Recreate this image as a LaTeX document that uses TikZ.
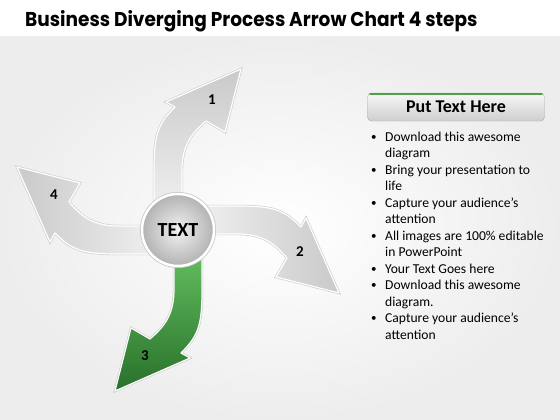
\documentclass[tikz,border=0pt]{standalone}
\usepackage{fontspec}
\setmainfont{Carlito}
\newfontfamily\headfont{Poppins}
\usetikzlibrary{positioning,calc}
\definecolor{leafdark}{RGB}{40,112,42}
\definecolor{leaflight}{RGB}{104,196,100}
\definecolor{barline}{RGB}{80,160,70}
\tikzset{%
  every petal/.style={
    preaction={draw=gray!40, line width=2.4pt},
    draw=white,
    line width=1.2pt,
    line join=round
  },
  petal gray/.style={top color=gray!42, bottom color=gray!10},
  petal green/.style={top color=leafdark, bottom color=leaflight},
  petal number/.style={font=\bfseries\fontsize{15}{15}\selectfont},
  hub/.style={
    circle, inner sep=0pt, minimum size=72pt,
    inner color=gray!10, outer color=gray!60,
    draw=white, line width=2.5pt,
    preaction={draw=gray!45, line width=4pt},
    font=\bfseries\fontsize{20}{20}\selectfont
  },
  button/.style={
    rectangle, rounded corners=4pt,
    minimum width=177pt, minimum height=28pt,
    top color=gray!6, bottom color=gray!38, draw=gray!65,
    font=\bfseries\fontsize{18}{18}\selectfont
  },
  bullet line/.style={anchor=base west, inner sep=0pt, font=\fontsize{13.6}{13.6}\selectfont}
}
\begin{document}
\begin{tikzpicture}[x=1pt, y=-1pt]
  \useasboundingbox (0,0) rectangle (560,420);
  \fill[white] (0,0) rectangle (560,420);
  \shade[inner color=white, outer color=gray!14] (0,37) rectangle (560,420);

  \node[anchor=base west, inner sep=0pt, font=\headfont\bfseries\fontsize{20}{20}\selectfont] (title) at (25,27) {\scalebox{0.925}[1]{Business Diverging Process Arrow Chart 4 steps}};

  \coordinate (centre) at (178,230);
  % four curved arrows, turned a quarter each time
  \foreach \ang/\kind [count=\i] in {0/gray, -90/gray, -180/green, -270/gray}
  {
    \begin{scope}[shift={(centre)}, rotate=\ang]
      \path[every petal, petal \kind, shading angle=\ang]
        (-24,-10) -- (-24,-60) .. controls (-24,-96) and (-20,-106) .. (-3,-123)
        -- (-12,-128) -- (63,-161) -- (47,-98) -- (28,-109)
        .. controls (17,-99) and (4,-88) .. (4,-60) -- (4,-10) -- cycle;
    \end{scope}
  }

  \node[hub] (hub) at (centre) {TEXT};

  \node[petal number] (n1) at (212,100) {1};
  \node[petal number] (n2) at (300,252) {2};
  \node[petal number] (n3) at (145,356) {3};
  \node[petal number] (n4) at (54,195) {4};

  \node[button] (put) at (456,107) {Put Text Here};
  \draw[barline, line width=2.5pt, line cap=round] ($(put.north west)+(3,1)$) -- ($(put.north east)+(-3,1)$);

  \foreach \b/\txt [count=\k] in {1/Download this awesome, 0/diagram, 1/Bring your presentation to, 0/life,
      1/Capture your audience’s, 0/attention, 1/All images are 100\% editable, 0/in PowerPoint,
      1/Your Text Goes here, 1/Download this awesome, 0/diagram., 1/Capture your audience’s, 0/attention}
  {
    \node[bullet line] (line-\k) at (385,{141+(\k-1)*16.5}) {\txt};
    \ifnum\b=1
      \node[bullet line, font=\fontsize{11}{11}\selectfont] (dot-\k) at (371,{140+(\k-1)*16.5}) {\textbullet};
    \fi
  }
\end{tikzpicture}
\end{document}
